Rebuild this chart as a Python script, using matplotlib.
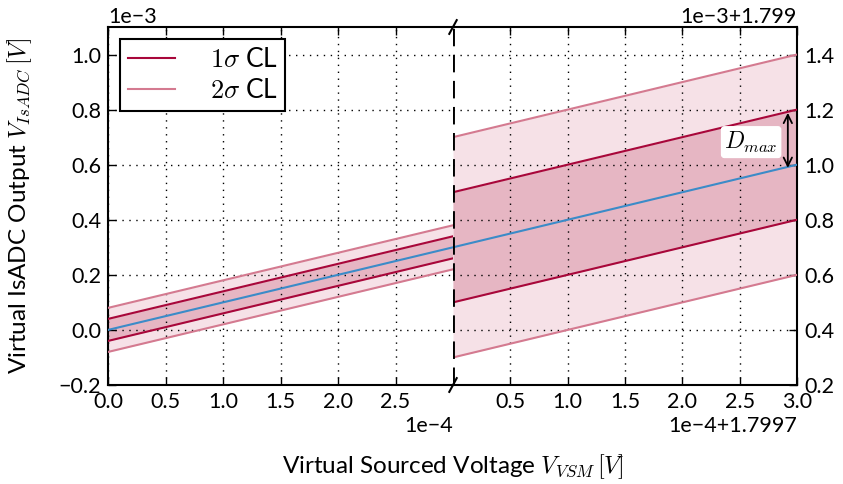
import numpy as np
import matplotlib
matplotlib.use("Agg")
import matplotlib.pyplot as plt
from matplotlib.ticker import ScalarFormatter

plt.rcParams["font.family"] = ["Lato", "DejaVu Sans"]
plt.rcParams["mathtext.fontset"] = "cm"
plt.rcParams["font.size"] = 15

# low range (left panel)
x_low = np.array([0.0, 3e-4])
center_low = np.array([0.0, 3e-4])
sigma_low = 0.04e-3

# high range (right panel)
x_high = np.array([1.7997, 1.8000])
center_high = np.array([1.7997, 1.8000])
sigma_high = 0.2e-3

# D_max marker position
dmax_x = 1.7997 + 2.92e-4

c_blue = "#3b8bc8"
c_1s = "#a8073a"
c_2s = "#d47a90"
f_1s = "#e6b6c3"
f_2s = "#f6e1e7"

fig = plt.figure(figsize=(8.43, 4.84), dpi=100)
ax1 = fig.add_axes([108 / 843, 1 - 385 / 484, 345 / 843, 358 / 484])
ax2 = fig.add_axes([453 / 843, 1 - 385 / 484, 344 / 843, 358 / 484])


def draw_band(ax, x, c, s):
    ax.fill_between(x, c - 2 * s, c + 2 * s, color=f_2s, lw=0, zorder=1)
    ax.fill_between(x, c - s, c + s, color=f_1s, lw=0, zorder=1)
    l1, = ax.plot(x, c + s, color=c_1s, lw=1.5, zorder=3)
    ax.plot(x, c - s, color=c_1s, lw=1.5, zorder=3)
    l2, = ax.plot(x, c + 2 * s, color=c_2s, lw=1.5, zorder=3)
    ax.plot(x, c - 2 * s, color=c_2s, lw=1.5, zorder=3)
    ax.plot(x, c, color=c_blue, lw=1.5, zorder=4)
    return l1, l2


l1, l2 = draw_band(ax1, x_low, center_low, sigma_low)
draw_band(ax2, x_high, center_high, sigma_high)

ax1.set_xlim(0, 3e-4)
ax1.set_ylim(-0.2e-3, 1.1e-3)
ax1.set_xticks(np.arange(0, 2.6e-4, 0.5e-4))
ax1.set_yticks(np.arange(-0.2e-3, 1.05e-3, 0.2e-3))

ax2.set_xlim(1.7997, 1.8000)
ax2.set_ylim(1.799 + 0.2e-3, 1.799 + 1.5e-3)
ax2.set_xticks(1.7997 + np.arange(0.5e-4, 3.05e-4, 0.5e-4))
ax2.set_yticks(1.799 + np.arange(0.2e-3, 1.45e-3, 0.2e-3))

for ax, xoff, yoff in [(ax1, False, False), (ax2, 1.7997, 1.799)]:
    fx = ScalarFormatter(useOffset=xoff)
    fx.set_powerlimits((0, 0))
    fy = ScalarFormatter(useOffset=yoff)
    fy.set_powerlimits((0, 0))
    ax.xaxis.set_major_formatter(fx)
    ax.yaxis.set_major_formatter(fy)
    ax.grid(True, color="black", linestyle=(0, (1, 4)), lw=1)
    ax.tick_params(direction="in", length=6, width=1, labelsize=15.5, top=True, pad=5)
    ax.xaxis.get_offset_text().set_fontsize(15.5)
    ax.yaxis.get_offset_text().set_fontsize(15.5)
    for sp in ax.spines.values():
        sp.set_linewidth(1.5)

ax1.spines["right"].set_visible(False)
ax1.tick_params(right=False)
ax2.spines["left"].set_visible(False)
ax2.yaxis.tick_right()
ax2.tick_params(left=False, right=True, direction="in")
ax2.yaxis.set_offset_position("right")

# break line and marks
ax2.axvline(1.7997, color="black", lw=2.8, dashes=(4.5, 2.2), zorder=6)
d = 0.012
for yy in (0, 1):
    ax2.plot([-d * 0.9, d * 0.9], [yy - d * 1.6, yy + d * 1.6], transform=ax2.transAxes,
             color="black", lw=1.5, clip_on=False, zorder=7)

ax2.annotate("", xy=(dmax_x, dmax_x + sigma_high - 0.0036e-3), xytext=(dmax_x, dmax_x - 0.0036e-3),
             arrowprops=dict(arrowstyle="<->", color="black", lw=1.3, shrinkA=0, shrinkB=0), zorder=8)
ax2.text(dmax_x - 0.32e-4, dmax_x + sigma_high / 2 - 0.01e-3, r"$D_{max}$", ha="center", va="center",
         fontsize=17, zorder=8,
         bbox=dict(boxstyle="round,pad=0.12", fc="white", ec="white"))

leg = ax1.legend([l1, l2], [r"$1\sigma$ CL", r"$2\sigma$ CL"], loc="upper left",
                 fancybox=False, edgecolor="black", framealpha=1, fontsize=19,
                 handlelength=1.8, handletextpad=1.3, borderaxespad=0.45,
                 labelspacing=0.25, borderpad=0.3)
leg.get_frame().set_linewidth(1.5)

fig.text(20 / 843, 1 - 206 / 484, r"Virtual IsADC Output $V_{IsADC}\,[V]$", rotation=90,
         ha="center", va="center", fontsize=17.5)
fig.text(453 / 843, 1 - 467 / 484, r"Virtual Sourced Voltage $V_{VSM}\,[V]$",
         ha="center", va="center", fontsize=17.5)

fig.savefig("out.png", dpi=100)
